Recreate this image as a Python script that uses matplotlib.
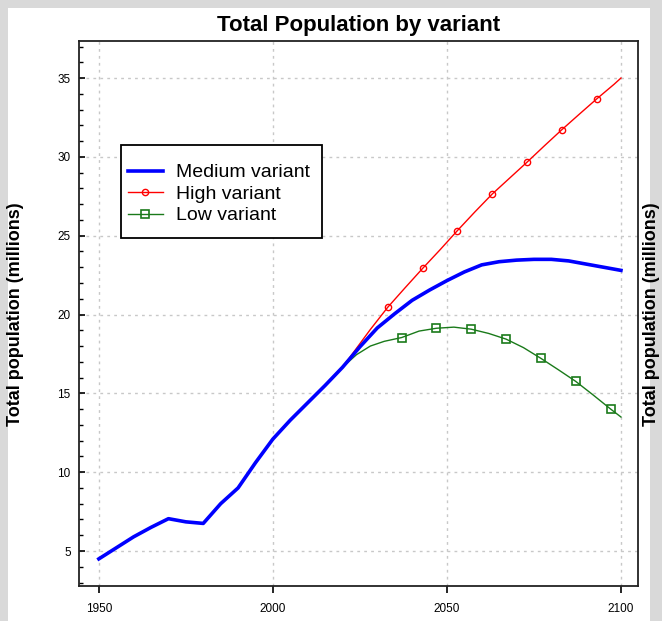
import matplotlib
matplotlib.use('Agg')
import matplotlib.pyplot as plt
from matplotlib.patches import Rectangle
from matplotlib.ticker import MultipleLocator

plt.rcParams['font.family'] = ['Liberation Sans', 'DejaVu Sans']

# Medium variant (estimated from the chart)
med_years = [1950, 1955, 1960, 1965, 1970, 1975, 1980, 1985, 1990, 1995,
             2000, 2005, 2010, 2015, 2020, 2025, 2030, 2035, 2040, 2045,
             2050, 2055, 2060, 2065, 2070, 2075, 2080, 2085, 2090, 2095, 2100]
med_pop = [4.5, 5.2, 5.9, 6.5, 7.05, 6.85, 6.75, 8.0, 9.0, 10.6,
           12.1, 13.3, 14.4, 15.5, 16.65, 17.95, 19.15, 20.05, 20.9, 21.55,
           22.15, 22.7, 23.15, 23.35, 23.45, 23.5, 23.5, 23.4, 23.2, 23.0, 22.8]

# High variant
high_years = [2020, 2025, 2028, 2033, 2038, 2043, 2048, 2053, 2058, 2063,
              2068, 2073, 2078, 2083, 2088, 2093, 2098, 2100]
high_pop = [16.65, 18.15, 19.05, 20.46, 21.7, 22.92, 24.1, 25.32, 26.5, 27.64,
            28.65, 29.66, 30.7, 31.72, 32.7, 33.67, 34.6, 35.0]

# Low variant
low_years = [2020, 2024, 2028, 2032, 2037, 2042, 2047, 2052, 2057, 2062,
             2067, 2072, 2077, 2082, 2087, 2092, 2097, 2100]
low_pop = [16.65, 17.45, 18.0, 18.3, 18.54, 18.95, 19.13, 19.2, 19.07, 18.8,
           18.44, 17.9, 17.22, 16.5, 15.76, 14.9, 14.01, 13.5]

W, H = 662, 621
fig = plt.figure(figsize=(W / 100, H / 100), dpi=100, facecolor='#d9d9d9')
fig.patches.append(Rectangle((8 / W, 0), (650 - 8) / W, (H - 8) / H,
                             transform=fig.transFigure, facecolor='white',
                             edgecolor='none', zorder=0))

ax = fig.add_axes([79 / W, (H - 586) / H, (638 - 79) / W, (586 - 41) / H])
ax.set_zorder(1)

ax.plot(med_years, med_pop, color='blue', lw=2.6, label='Medium variant', zorder=3)
hi_marks = [i for i, y in enumerate(high_years) if (y - 2033) % 10 == 0 and y < 2100]
ax.plot(high_years, high_pop, color='red', lw=1, marker='o', markersize=4.5,
        markerfacecolor='none', markeredgewidth=1, markevery=hi_marks,
        label='High variant', zorder=2)
lo_marks = [i for i, y in enumerate(low_years) if (y - 2037) % 10 == 0 and y < 2100]
ax.plot(low_years, low_pop, color='#1a7a1a', lw=1, marker='s', markersize=5.5,
        markerfacecolor='none', markeredgewidth=1.2, markevery=lo_marks,
        label='Low variant', zorder=2)

ax.set_xlim(1944.3, 2104.9)
ax.set_ylim(2.78, 37.35)
ax.set_xticks([1950, 2000, 2050, 2100])
ax.yaxis.set_major_locator(MultipleLocator(5))
ax.yaxis.set_minor_locator(MultipleLocator(1))
ax.tick_params(axis='x', direction='out', length=5, width=1.2, labelsize=8.5, pad=7)
ax.tick_params(axis='y', which='major', direction='in', length=4, width=1.2,
               labelsize=8.5, pad=6)
ax.tick_params(axis='y', which='minor', direction='in', length=3, width=1)
ax.grid(True, which='major', color='#c8c8c8', linestyle=(0, (2, 3)), lw=1)
for s in ax.spines.values():
    s.set_linewidth(1.3)
    s.set_color('#222222')

fig.text(0.5 * (79 + 638) / W, (H - 25) / H, 'Total Population by variant',
         ha='center', va='center', fontsize=16, fontweight='bold')
fig.text(16 / W, (H - 314) / H, 'Total population (millions)', rotation=90,
         ha='center', va='center', fontsize=13, fontweight='bold')
fig.text(652 / W, (H - 314) / H, 'Total population (millions)', rotation=90,
         ha='center', va='center', fontsize=13, fontweight='bold')

# legend box drawn separately so its padding matches the original
ax.add_patch(Rectangle(((121 - 79) / (638 - 79), (586 - 238) / (586 - 41)),
                       (322 - 121) / (638 - 79), (238 - 145) / (586 - 41),
                       transform=ax.transAxes, facecolor='white',
                       edgecolor='black', lw=1.3, zorder=5))
leg = ax.legend(loc='upper left', bbox_to_anchor=((121 - 79) / (638 - 79), (586 - 157) / (586 - 41)),
                fontsize=14, frameon=False, handlelength=1.8, borderpad=0.35,
                labelspacing=0.2, handletextpad=0.7, borderaxespad=0)
leg.set_zorder(6)

fig.savefig('out.png', dpi=100, facecolor=fig.get_facecolor())
